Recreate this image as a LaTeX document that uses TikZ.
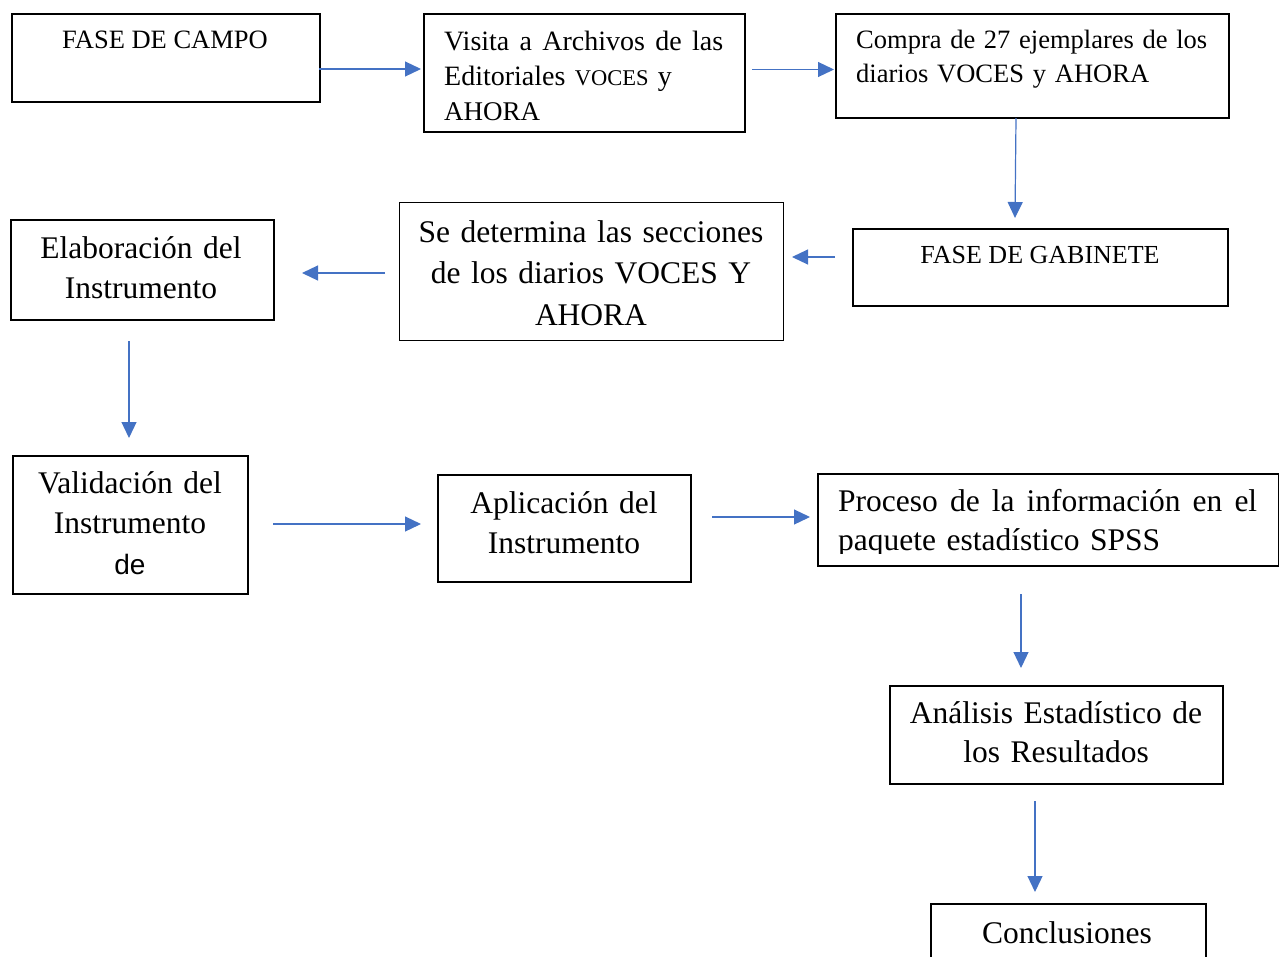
\documentclass[tikz,border=0pt]{standalone}
\usepackage{fontspec}
\setmainfont{Liberation Serif}
\newfontfamily\arialfont{Liberation Sans}
\usetikzlibrary{arrows.meta}
\definecolor{arrblue}{HTML}{4472C4}
\tikzset{
  box/.style={draw=black, line width=1.6pt, rectangle, anchor=north west, inner sep=0pt, fill=none},
  thinbox/.style={box, line width=1pt},
  arr/.style={draw=arrblue, line width=1.2pt, -{Triangle[length=16pt,width=15pt]}},
  small/.style={font=\fontsize{26.5}{34}\selectfont, inner sep=0pt},
  big/.style={font=\fontsize{31.5}{40}\selectfont, inner sep=0pt}
}
\begin{document}
\begin{tikzpicture}[x=1pt,y=-1pt]
\useasboundingbox (0,0) rectangle (1279,956);
% boxes
\node[box, minimum width=308pt, minimum height=88pt] (b1) at (11,13) {};
\node[box, minimum width=321pt, minimum height=118pt] (b2) at (423,13) {};
\node[box, minimum width=393pt, minimum height=104pt] (b3) at (835,13) {};
\node[box, minimum width=375pt, minimum height=77pt] (b4) at (852,228) {};
\node[thinbox, minimum width=384pt, minimum height=138pt] (b5) at (399,202) {};
\node[box, minimum width=263pt, minimum height=100pt] (b6) at (10,219) {};
\node[box, minimum width=235pt, minimum height=138pt] (b7) at (12,455) {};
\node[box, minimum width=253pt, minimum height=107pt] (b8) at (437,474) {};
\node[box, minimum width=461pt, minimum height=92pt] (b9) at (817,473) {};
\node[box, minimum width=333pt, minimum height=98pt] (b10) at (889,685) {};
\node[box, minimum width=275pt, minimum height=90pt] (b11) at (930,903) {};
% texts
\node[small, anchor=base] (t1) at (165,48) {FASE DE CAMPO};
\node[inner sep=0pt, anchor=base west, text width=295pt, align=left,
      font=\fontsize{28}{35}\selectfont] (t2) at (444,50)
  {\hbox to 279pt{Visita\hfill a\hfill Archivos\hfill de\hfill las}\\Editoriales {\fontsize{22.5}{35}\selectfont VOCES} y\\{\fontsize{27}{35}\selectfont AHORA}};
\node[small, anchor=base west, text width=360pt, align=left] (t3) at (856,48)
  {\hbox to 351pt{Compra\hfill de\hfill 27\hfill ejemplares\hfill de\hfill los}\\diarios VOCES y AHORA};
\node[inner sep=0pt, anchor=base, font=\fontsize{26}{34}\selectfont] (t4) at (1040,263) {FASE DE GABINETE};
\node[big, anchor=base, text width=380pt, align=center, font=\fontsize{31.5}{41.5}\selectfont] (t5) at (591,242)
  {Se determina las secciones\\de los diarios VOCES Y\\AHORA};
\node[big, anchor=base, text width=260pt, align=center] (t6) at (141,258)
  {Elaboración del\\Instrumento};
\node[big, anchor=base, text width=230pt, align=center, font=\fontsize{31.5}{40.5}\selectfont] (t7) at (130,493)
  {Validación del\\Instrumento\\{\arialfont\fontsize{28}{40}\selectfont de}};
\node[big, anchor=base, text width=250pt, align=center] (t8) at (564,513)
  {Aplicación del\\Instrumento};
\begin{scope}
\clip (818,474) rectangle (1277,553);
\node[big, anchor=base west, text width=430pt, align=left, font=\fontsize{31.5}{38.5}\selectfont] (t9) at (838,511.5)
  {\hbox to 419pt{Proceso\hfill de\hfill la\hfill información\hfill en\hfill el}\\paquete estadístico SPSS};
\end{scope}
\node[big, anchor=base, text width=330pt, align=center, font=\fontsize{31.5}{39}\selectfont] (t10) at (1056,723)
  {Análisis Estadístico de\\los Resultados};
\node[big, anchor=base] (t11) at (1067,943) {Conclusiones};
% connector ends
\coordinate (a1s) at (319,69);   \coordinate (a1e) at (421,69);
\coordinate (a2s) at (752,69.5); \coordinate (a2e) at (834,69.5);
\coordinate (a3s) at (1016,118); \coordinate (a3e) at (1015,218);
\coordinate (a4s) at (835,257);  \coordinate (a4e) at (792,257);
\coordinate (a5s) at (385,273);  \coordinate (a5e) at (302,273);
\coordinate (a6s) at (129,341);  \coordinate (a6e) at (129,438);
\coordinate (a7s) at (273,524);  \coordinate (a7e) at (421,524);
\coordinate (a8s) at (712,517);  \coordinate (a8e) at (810,517);
\coordinate (a9s) at (1021,594); \coordinate (a9e) at (1021,668);
\coordinate (a10s) at (1035,801);\coordinate (a10e) at (1035,892);
\draw[arr] (a1s) -- (a1e);
\draw[arr] (a2s) -- (a2e);
\draw[arr] (a3s) -- (a3e);
\draw[arr] (a4s) -- (a4e);
\draw[arr] (a5s) -- (a5e);
\draw[arr] (a6s) -- (a6e);
\draw[arr] (a7s) -- (a7e);
\draw[arr] (a8s) -- (a8e);
\draw[arr] (a9s) -- (a9e);
\draw[arr] (a10s) -- (a10e);
\end{tikzpicture}
\end{document}
